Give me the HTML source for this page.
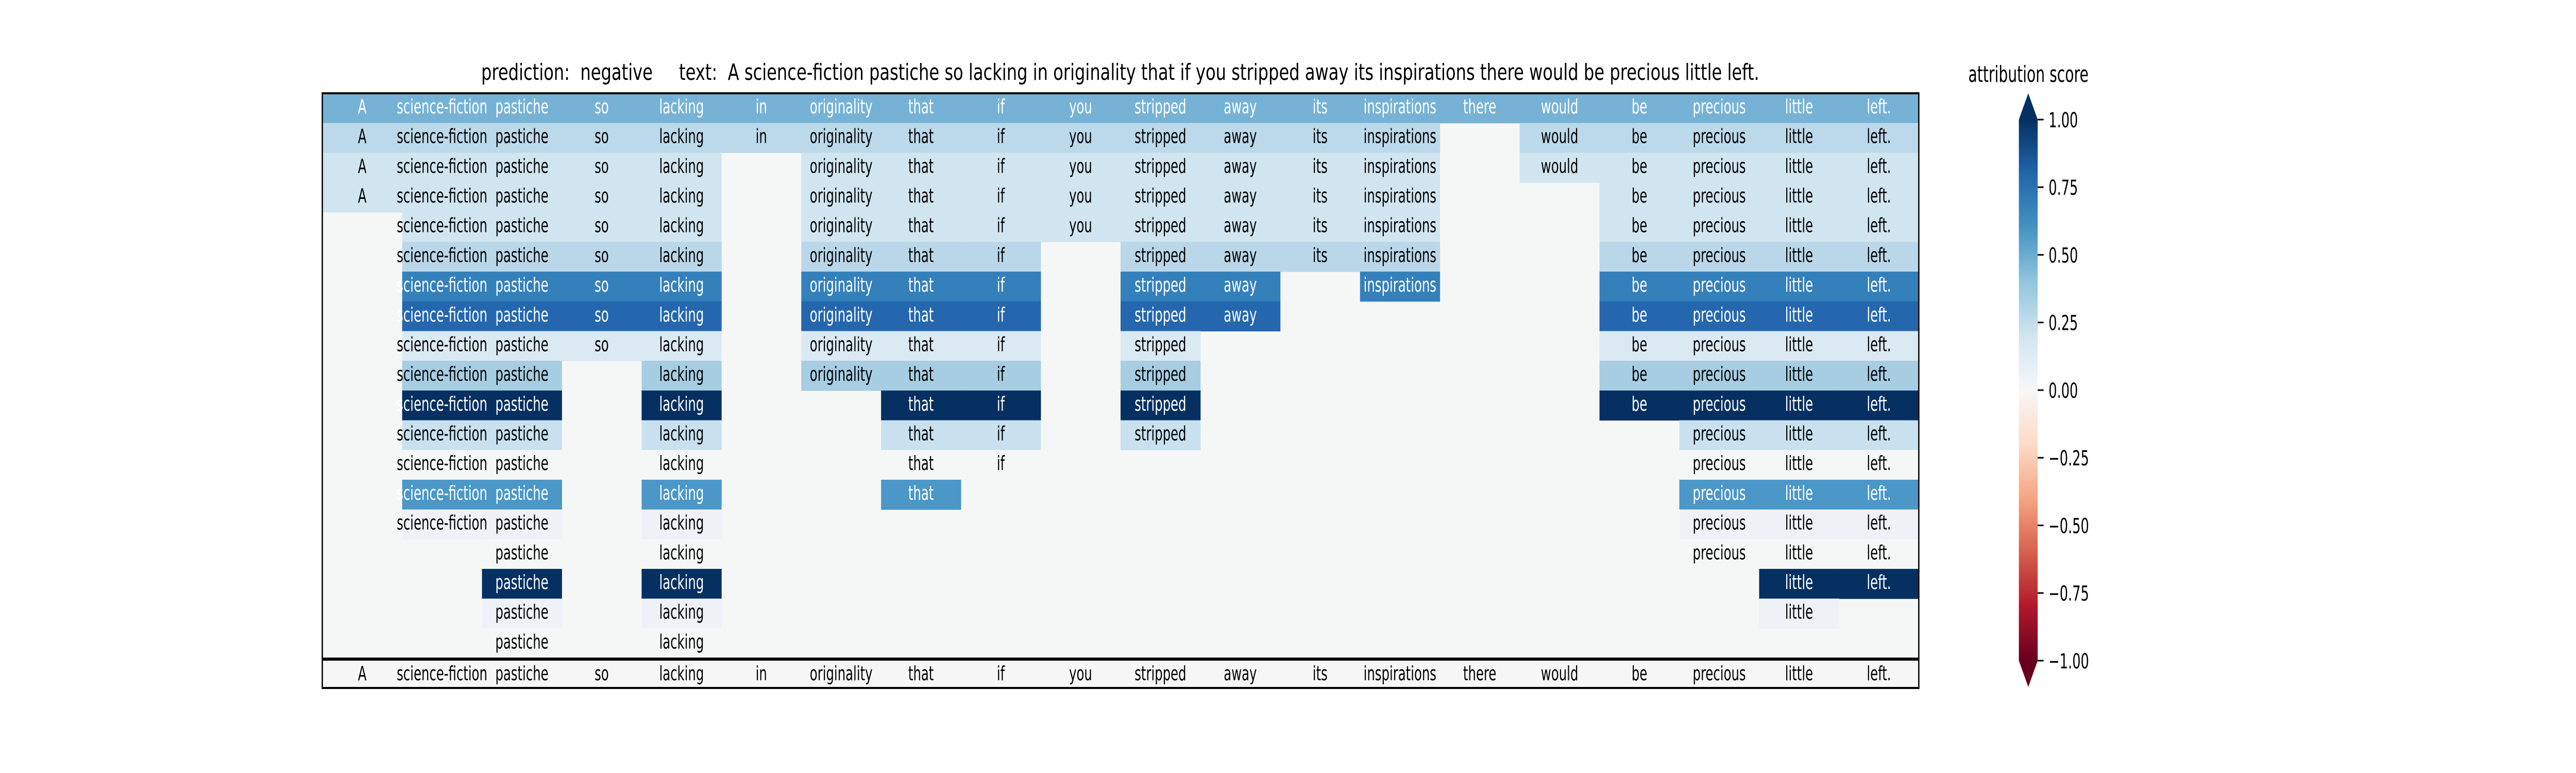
<!DOCTYPE html>
<html><head><meta charset="utf-8">
<style>html,body{margin:0;padding:0;background:#fff;overflow:hidden}svg{display:block;width:100vw;height:100vh}</style></head>
<body>
<svg id="s" xmlns="http://www.w3.org/2000/svg" viewBox="0 0 7800 1500" preserveAspectRatio="none" font-family="DejaVu Sans, Liberation Sans, sans-serif">
<defs>
<linearGradient id="g" x1="0" y1="0" x2="0" y2="1">
<stop offset="0" stop-color="#053061"/><stop offset="0.1" stop-color="#2166ac"/><stop offset="0.2" stop-color="#4393c3"/><stop offset="0.3" stop-color="#92c5de"/><stop offset="0.4" stop-color="#d1e5f0"/><stop offset="0.5" stop-color="#f7f7f7"/><stop offset="0.6" stop-color="#fddbc7"/><stop offset="0.7" stop-color="#f4a582"/><stop offset="0.8" stop-color="#d6604d"/><stop offset="0.9" stop-color="#b2182b"/><stop offset="1" stop-color="#67001f"/>
</linearGradient>
</defs>
<text x="1457" y="155" font-size="44" textLength="3870" lengthAdjust="spacingAndGlyphs" xml:space="preserve">prediction:  negative     text:  A science-fiction pastiche so lacking in originality that if you stripped away its inspirations there would be precious little left.</text>
<rect x="976" y="181" width="4834" height="1154" fill="#f5f7f6"/>
<g id="cells"></g>
<line x1="976" y1="1279" x2="5810" y2="1279" stroke="#000" stroke-width="6"/>
<rect x="976" y="181" width="4834" height="1154" fill="none" stroke="#000" stroke-width="4"/>
<polygon points="6113,232 6141.5,181 6170,232" fill="#053061"/>
<polygon points="6113,1282 6141.5,1333 6170,1282" fill="#67001f"/>
<rect x="6113" y="232" width="57" height="1050" fill="url(#g)"/>
<text x="6142" y="159" font-size="44" text-anchor="middle">attribution score</text>
<g id="ticks" font-size="40"></g>
</svg>
<script>
var words=["A","science-fiction","pastiche","so","lacking","in","originality","that","if","you","stripped","away","its","inspirations","there","would","be","precious","little","left."];
function r(a,b){var o=[];for(var i=a;i<=b;i++)o.push(i);return o;}
var rows=[
r(0,19),
r(0,13).concat(r(15,19)),
r(0,4).concat(r(6,13),[15],r(16,19)),
r(0,4).concat(r(6,13),r(16,19)),
r(1,4).concat(r(6,13),r(16,19)),
r(1,4).concat([6,7,8,10,11,12,13],r(16,19)),
r(1,4).concat([6,7,8,10,11,13],r(16,19)),
r(1,4).concat([6,7,8,10,11],r(16,19)),
r(1,4).concat([6,7,8,10],r(16,19)),
[1,2,4,6,7,8,10,16,17,18,19],
[1,2,4,7,8,10,16,17,18,19],
[1,2,4,7,8,10,17,18,19],
[1,2,4,7,8,17,18,19],
[1,2,4,7,17,18,19],
[1,2,4,17,18,19],
[2,4,17,18,19],
[2,4,18,19],
[2,4,18],
[2,4]];
var cols=[["#76b2d6",1],["#bbd9ea",0],["#d1e5f0",0],["#d1e5f0",0],["#d1e5f0",0],["#b9d7e9",0],["#3480bb",1],["#2467ae",1],["#dbe9f3",0],["#a6cde2",0],["#063061",1],["#c9e1ee",0],["#f5f7f6",0],["#4a97c8",1],["#eef2f6",0],["#f5f7f6",0],["#063061",1],["#eef2f6",0],["#f5f7f6",0]];
var X0=976,W=(5810-976)/20,Y0=181,H=(1277-181)/19;
var s="";
for(var i=0;i<19;i++){var y=Y0+i*H;var c=cols[i];
 rows[i].forEach(function(j){var x=X0+j*W;
  s+='<rect x="'+x.toFixed(1)+'" y="'+y.toFixed(1)+'" width="'+(W+0.6).toFixed(1)+'" height="'+(H+0.6).toFixed(1)+'" fill="'+c[0]+'"/>';
 });
 rows[i].forEach(function(j){var x=X0+j*W+W/2;
  s+='<text x="'+x.toFixed(1)+'" y="'+(y+39).toFixed(1)+'" font-size="38" text-anchor="middle" fill="'+(c[1]?'#fff':'#000')+'">'+words[j]+'</text>';
 });
}
s+='<rect x="976" y="1282" width="4834" height="53" fill="#f6f6f6"/>';
for(var j=0;j<20;j++){s+='<text x="'+(X0+j*W+W/2).toFixed(1)+'" y="1320" font-size="38" text-anchor="middle">'+words[j]+'</text>';}
document.getElementById("cells").innerHTML=s;
var t="";
[1,0.75,0.5,0.25,0,-0.25,-0.5,-0.75,-1].forEach(function(v){var y=757-v*525;
 t+='<line x1="6170" y1="'+y+'" x2="6188" y2="'+y+'" stroke="#000" stroke-width="3"/>';
 var lab=(v<0?'\u2212':'')+Math.abs(v).toFixed(2);
 t+='<text x="6203" y="'+(y+15)+'">'+lab+'</text>';
});
document.getElementById("ticks").innerHTML=t;
</script>
</body></html>
